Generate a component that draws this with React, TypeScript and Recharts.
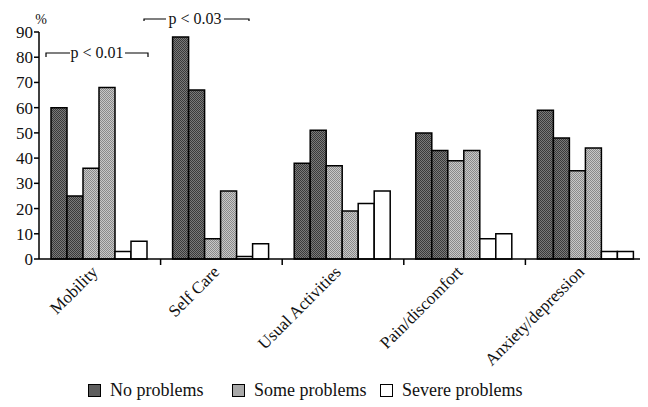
import { BarChart, Bar, XAxis, YAxis, Legend } from "recharts";

const categories = ["Mobility", "Self Care", "Usual Activities", "Pain/discomfort", "Anxiety/depression"];

// two bars per answer level (dark = no problems, grey = some, white = severe)
const noProblemsA = [60, 88, 38, 50, 59];
const noProblemsB = [25, 67, 51, 43, 48];
const someProblemsA = [36, 8, 37, 39, 35];
const someProblemsB = [68, 27, 19, 43, 44];
const severeProblemsA = [3, 1, 22, 8, 3];
const severeProblemsB = [7, 6, 27, 10, 3];

const yTicks = [0, 10, 20, 30, 40, 50, 60, 70, 80, 90];
const legendLabels = ["No problems", "Some problems", "Severe problems"];

const DARK = "url(#dotDark)";
const GREY = "url(#dotGrey)";
const WHITE = "#ffffff";
const legendColors = ["#5e5e5e", "#a9a9a9", WHITE];
const FONT = "Liberation Serif, DejaVu Serif, Times, serif";

const data = categories.map((c, i) => ({
  name: c,
  npA: noProblemsA[i],
  npB: noProblemsB[i],
  spA: someProblemsA[i],
  spB: someProblemsB[i],
  svA: severeProblemsA[i],
  svB: severeProblemsB[i],
}));

const CategoryTick = (props: any) => {
  const { x, y, payload } = props;
  const isLast = payload.value === categories[categories.length - 1];
  const off = payload.offset ?? 0;
  const ax = x - 1;
  const ay = y + 6;
  return (
    <g>
      {!isLast && <line x1={x + off} y1={y - 8} x2={x + off} y2={y - 2} stroke="#000" strokeWidth={1.5} />}
      <text
        x={ax}
        y={ay}
        transform={`rotate(-45 ${ax} ${ay})`}
        textAnchor="end"
        style={{ fontFamily: FONT }}
        fontSize={17}
        fill="#111"
      >
        {payload.value}
      </text>
    </g>
  );
};

const LegendContent = () => {
  const widths = [144, 148, 160];
  return (
    <div style={{ display: "flex", alignItems: "center", height: 24, paddingLeft: 80, fontFamily: FONT, fontSize: 18, color: "#111" }}>
      {legendLabels.map((label, i) => (
        <div key={label} style={{ display: "flex", alignItems: "center", width: widths[i] }}>
          <span style={{ display: "inline-block", width: 11, height: 11, background: legendColors[i], border: "1px solid #000", marginRight: 9 }} />
          <span>{label}</span>
        </div>
      ))}
    </div>
  );
};

export default function App() {
  return (
    <div style={{ position: "relative", width: 640, height: 399, fontFamily: FONT }}>
      <BarChart
        width={640}
        height={399}
        data={data}
        margin={{ top: 24, right: 1, bottom: 5, left: 0 }}
        barCategoryGap={12}
        barGap={0}
        style={{ fontFamily: FONT }}
      >
        <defs>
          <pattern id="dotDark" width={2} height={2} patternUnits="userSpaceOnUse">
            <rect width={2} height={2} fill="#7a7a7a" />
            <rect width={1} height={1} fill="#3a3a3a" />
            <rect x={1} y={1} width={1} height={1} fill="#3a3a3a" />
          </pattern>
          <pattern id="dotGrey" width={2} height={2} patternUnits="userSpaceOnUse">
            <rect width={2} height={2} fill="#c8c8c8" />
            <rect width={1} height={1} fill="#8a8a8a" />
            <rect x={1} y={1} width={1} height={1} fill="#8a8a8a" />
          </pattern>
        </defs>
        <XAxis
          dataKey="name"
          tick={<CategoryTick />}
          tickLine={false}
          axisLine={{ stroke: "#000", strokeWidth: 1.5 }}
          height={119}
          interval={0}
        />
        <YAxis
          domain={[0, 90]}
          ticks={yTicks}
          width={31}
          tickSize={5}
          tickMargin={1}
          axisLine={{ stroke: "#000", strokeWidth: 1.5 }}
          tickLine={{ stroke: "#000", strokeWidth: 1.5 }}
          tick={{ fontSize: 17, fill: "#111", style: { fontFamily: FONT } }}
        />
        <Legend verticalAlign="bottom" wrapperStyle={{ left: 0, width: 640 }} content={<LegendContent />} />
        <Bar dataKey="npA" name="No problems" fill={DARK} stroke="#000" strokeWidth={1.5} isAnimationActive={false} />
        <Bar dataKey="npB" name="No problems B" legendType="none" fill={DARK} stroke="#000" strokeWidth={1.5} isAnimationActive={false} />
        <Bar dataKey="spA" name="Some problems" fill={GREY} stroke="#000" strokeWidth={1.5} isAnimationActive={false} />
        <Bar dataKey="spB" name="Some problems B" legendType="none" fill={GREY} stroke="#000" strokeWidth={1.5} isAnimationActive={false} />
        <Bar dataKey="svA" name="Severe problems" fill={WHITE} stroke="#000" strokeWidth={1.5} isAnimationActive={false} />
        <Bar dataKey="svB" name="Severe problems B" legendType="none" fill={WHITE} stroke="#000" strokeWidth={1.5} isAnimationActive={false} />
      </BarChart>
      <svg width={640} height={399} style={{ position: "absolute", left: 0, top: 0, pointerEvents: "none", fontFamily: FONT }}>
        <text x={33} y={16} fontSize={14} fill="#111" textAnchor="middle">%</text>
        <g stroke="#000" strokeWidth={1.2} fill="none">
          <polyline points="38,49 38,45 62,45" />
          <polyline points="117,45 140,45 140,49" />
          <polyline points="136,13 136,11 158,11" />
          <polyline points="216,11 241,11 241,13" />
        </g>
        <text x={89} y={50} fontSize={16} fill="#111" textAnchor="middle">p &lt; 0.01</text>
        <text x={187} y={16} fontSize={16} fill="#111" textAnchor="middle">p &lt; 0.03</text>
      </svg>
    </div>
  );
}
